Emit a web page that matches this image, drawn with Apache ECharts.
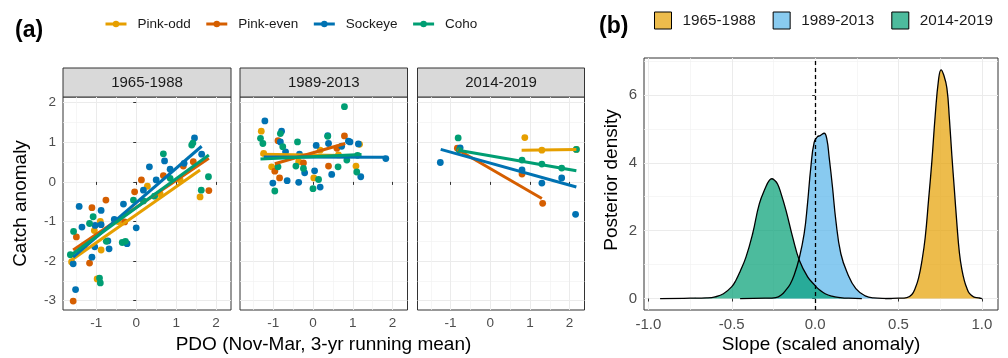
<!DOCTYPE html>
<html><head><meta charset="utf-8">
<script src="https://cdn.jsdelivr.net/npm/echarts@6/dist/echarts.min.js"></script>
<style>html,body{margin:0;padding:0;background:#fff}#c{width:1008px;height:358px}</style>
</head><body><div id="c"></div>
<script>
// ---------- data ----------
const species = ['Pink-odd', 'Pink-even', 'Sockeye', 'Coho'];
const speciesColors = ['#E69F00', '#D55E00', '#0072B2', '#009E73'];
const eras = ['1965-1988', '1989-2013', '2014-2019'];

// points [PDO, catch anomaly]
const pinkOdd_1965 = [[-0.9,-1.0],[-1.05,-1.23],[-0.88,-1.72],[-0.98,-2.45],[-1.62,-2.02],[0.28,-0.11],[1.6,-0.38],[0.6,-0.3],[1.1,0.05],[-0.45,-1.0],[-1.3,-1.6]];
const pinkEven_1965 = [[0.13,0.05],[-0.04,-0.25],[-0.76,-0.46],[-1.11,-0.65],[-1.5,-1.39],[-1.17,-2.05],[-1.58,-3.01],[-0.29,-1.01],[0.68,0.16],[1.43,0.51],[1.18,0.40],[1.82,-0.22]];
const sockeye_1965 = [[1.46,1.11],[0.71,0.53],[0.33,0.38],[0.85,0.32],[1.2,0.47],[1.64,0.70],[0.18,-0.21],[-0.32,-0.56],[-1.43,-0.62],[-0.88,-0.72],[-1.36,-1.14],[-1.03,-1.10],[0.0,-1.16],[-0.71,-1.49],[-0.23,-1.56],[-0.68,-1.69],[-1.04,-1.64],[-1.11,-1.90],[-1.58,-2.07],[-1.52,-2.72],[-0.88,-1.08],[0.5,0.05],[-0.55,-0.95]];
const coho_1965 = [[0.68,0.71],[1.39,0.93],[1.42,0.98],[1.81,0.13],[1.63,-0.21],[-1.08,-0.88],[-1.17,-1.05],[-1.57,-1.25],[-1.65,-1.84],[-0.75,-1.50],[-0.35,-1.53],[-0.27,-1.50],[-0.92,-2.43],[-0.9,-2.55],[-0.07,-0.46],[0.46,-0.36],[0.85,0.09],[0.18,-0.48]];

const pinkOdd_1989 = [[-1.3,1.28],[-1.24,0.72],[-1.04,0.38],[-0.36,0.51],[0.02,0.10],[0.64,0.68],[1.08,0.40],[1.17,0.95],[0.18,0.80]];
const pinkEven_1989 = [[-0.88,1.04],[-0.96,0.27],[-0.84,0.10],[-0.24,0.48],[0.39,0.40],[0.79,1.16],[0.6,0.85]];
const sockeye_1989 = [[-1.21,1.54],[-0.79,1.28],[-0.82,1.01],[-0.69,0.76],[0.08,0.92],[0.37,1.17],[0.39,0.97],[0.72,0.90],[0.89,1.03],[-0.34,0.70],[-0.21,0.23],[-0.65,0.03],[-0.36,-0.01],[-1.01,-0.03],[0.04,0.28],[0.18,-0.13],[0.47,0.19],[1.14,0.96],[1.83,0.59],[1.2,0.13],[0.93,1.01]];
const coho_1989 = [[0.79,1.90],[-1.32,1.10],[-1.26,0.97],[-0.82,1.22],[-0.76,0.89],[-0.39,1.01],[-0.88,0.38],[-0.43,0.40],[-0.96,-0.23],[0.0,-0.17],[0.14,0.06],[0.37,1.15],[0.63,0.38],[0.85,0.55],[-0.24,0.34],[1.1,0.25],[1.12,0.67]];

const pinkOdd_2014 = [[0.87,1.12],[2.17,0.82],[1.3,0.8]];
const pinkEven_2014 = [[-0.83,0.85],[1.32,-0.54],[0.8,0.2]];
const sockeye_2014 = [[-1.26,0.49],[-0.76,0.86],[1.3,-0.03],[2.15,-0.82],[0.8,0.3],[1.8,0.1]];
const coho_2014 = [[-0.81,1.11],[2.17,0.82],[0.8,0.55],[1.3,0.45],[1.8,0.35],[-0.78,0.8]];

// fitted lines [[x0,y0],[x1,y1]]
const fitPinkOdd_1965 = [[-1.62,-1.97],[1.6,0.30]];
const fitPinkEven_1965 = [[-1.58,-1.72],[1.82,0.60]];
const fitSockeye_1965 = [[-1.58,-1.90],[1.64,0.90]];
const fitCoho_1965 = [[-1.65,-1.86],[1.82,0.68]];
const fitPinkOdd_1989 = [[-1.32,0.70],[1.2,0.66]];
const fitPinkEven_1989 = [[-0.96,0.46],[0.81,0.97]];
const fitSockeye_1989 = [[-1.24,0.63],[1.83,0.62]];
const fitCoho_1989 = [[-1.32,0.58],[1.22,0.69]];
const fitPinkOdd_2014 = [[0.79,0.80],[2.17,0.82]];
const fitPinkEven_2014 = [[-0.83,0.82],[1.3,-0.42]];
const fitSockeye_2014 = [[-1.25,0.82],[2.17,-0.13]];
const fitCoho_2014 = [[-0.81,0.80],[2.17,0.28]];

// posterior densities of slope
const slope_1965 = [0.42,0.50,0.55,0.58,0.60,0.62,0.64,0.66,0.68,0.70,0.72,0.74,0.755,0.77,0.79,0.805,0.82,0.835,0.85,0.865,0.88,0.895,0.91,0.925,0.95,0.98,1.00];
const dens_1965  = [0,0.01,0.03,0.12,0.3,0.6,1.1,1.8,2.9,4.05,5.4,6.45,6.74,6.6,6.2,5.3,4.2,3.2,2.2,1.35,0.85,0.52,0.3,0.15,0.05,0.02,0];
const slope_1989 = [-0.45,-0.3,-0.236,-0.2,-0.176,-0.15,-0.126,-0.096,-0.066,-0.046,-0.026,-0.006,0.014,0.03,0.054,0.07,0.084,0.104,0.124,0.154,0.194,0.244,0.3,0.35,0.46];
const dens_1989  = [0,0.01,0.03,0.12,0.25,0.42,0.69,1.18,1.91,2.79,3.87,4.6,4.77,4.8,4.87,4.7,4.16,3.28,2.30,1.32,0.74,0.29,0.08,0.02,0];
const slope_2014 = [-0.93,-0.75,-0.65,-0.6,-0.55,-0.5,-0.475,-0.45,-0.415,-0.375,-0.335,-0.295,-0.275,-0.26,-0.245,-0.225,-0.205,-0.175,-0.135,-0.095,-0.045,0.0,0.025,0.06,0.1,0.15,0.2,0.28];
const dens_2014  = [0,0.01,0.02,0.05,0.14,0.35,0.54,0.8,1.22,1.91,2.79,3.3,3.48,3.53,3.49,3.37,3.1,2.6,1.81,1.13,0.64,0.38,0.26,0.14,0.07,0.03,0.01,0];

const ticksCatch = [-3,-2,-1,0,1,2];
const ticksPDO = [-1,0,1,2];
const ticksSlope = [-1.0,-0.5,0.0,0.5,1.0];
const ticksDens = [0,2,4,6];

// ---------- assembly ----------
const points = [
  [pinkOdd_1965, pinkEven_1965, sockeye_1965, coho_1965],
  [pinkOdd_1989, pinkEven_1989, sockeye_1989, coho_1989],
  [pinkOdd_2014, pinkEven_2014, sockeye_2014, coho_2014]
];
const fits = [
  [fitPinkOdd_1965, fitPinkEven_1965, fitSockeye_1965, fitCoho_1965],
  [fitPinkOdd_1989, fitPinkEven_1989, fitSockeye_1989, fitCoho_1989],
  [fitPinkOdd_2014, fitPinkEven_2014, fitSockeye_2014, fitCoho_2014]
];
const dens = [[slope_1965, dens_1965],[slope_1989, dens_1989],[slope_2014, dens_2014]];
const areaFills = ['rgba(230,159,0,0.7)','rgba(86,180,233,0.7)','rgba(0,158,115,0.7)'];
const keyFills = ['#EDBC4C','#89CBF0','#4DBB9D'];

const FONT = '"Liberation Sans", Arial, sans-serif';
const facets = [{l:63,w:168},{l:240,w:167.5},{l:417.5,w:167}];
const FT = 97, FH = 213;
const B = {l:644, t:58, w:354, h:252};

const grids = facets.map(f => ({left:f.l, top:FT, width:f.w, height:FH, show:true, borderColor:'#333', borderWidth:1, backgroundColor:'#fff', containLabel:false, outerBoundsMode:'none'}));
grids.push({left:B.l, top:B.t, width:B.w, height:B.h, show:true, borderColor:'#333', borderWidth:1, backgroundColor:'#fff', containLabel:false, outerBoundsMode:'none'});

const splitL = {show:true, lineStyle:{color:'#EBEBEB', width:1}};
const minorL = {show:true, lineStyle:{color:'#F2F2F2', width:0.7}};

const xAxes = facets.map((f,i) => ({
  type:'value', gridIndex:i, min:-1.835, max:2.375, splitNumber:5,
  axisLine:{show:false}, axisTick:{show:true, length:3, lineStyle:{color:'#333'}, customValues:ticksPDO},
  axisLabel:{show:true, color:'#4D4D4D', fontSize:13.5, fontFamily:FONT, margin:6, customValues:ticksPDO, formatter:v=>String(v)},
  splitLine:splitL, minorTick:{show:false, splitNumber:2}, minorSplitLine:minorL
}));
xAxes.push({
  type:'value', gridIndex:3, min:-1.0265, max:1.0965, splitNumber:5,
  axisLine:{show:false}, axisTick:{show:true, length:3, lineStyle:{color:'#333'}, customValues:ticksSlope},
  axisLabel:{show:true, color:'#4D4D4D', fontSize:15, fontFamily:FONT, margin:7, customValues:ticksSlope, formatter:v=>v.toFixed(1)},
  splitLine:splitL, minorTick:{show:false, splitNumber:2}, minorSplitLine:minorL
});
const yAxes = facets.map((f,i) => ({
  type:'value', gridIndex:i, min:-3.235, max:2.144, splitNumber:5,
  axisLine:{show:false}, axisTick:{show:i===0, length:3, lineStyle:{color:'#333'}, customValues:ticksCatch},
  axisLabel:{show:i===0, color:'#4D4D4D', fontSize:13.5, fontFamily:FONT, margin:7, customValues:ticksCatch, formatter:v=>String(v)},
  splitLine:splitL, minorTick:{show:false, splitNumber:2}, minorSplitLine:minorL
}));
yAxes.push({
  type:'value', gridIndex:3, min:-0.3375, max:7.0875, splitNumber:4,
  axisLine:{show:false}, axisTick:{show:true, length:3, lineStyle:{color:'#333'}, customValues:ticksDens},
  axisLabel:{show:true, color:'#4D4D4D', fontSize:15, fontFamily:FONT, margin:7, customValues:ticksDens, formatter:v=>String(v)},
  splitLine:splitL, minorTick:{show:false, splitNumber:2}, minorSplitLine:minorL
});

const series = [];
// regression lines first (legend icon source), drawn above points via z
eras.forEach((era, e) => {
  species.forEach((sp, s) => {
    series.push({
      type:'line', name:sp, xAxisIndex:e, yAxisIndex:e, data:fits[e][s],
      showSymbol:false, symbol:'circle', symbolSize:6, z:4, silent:true,
      lineStyle:{width:3, color:speciesColors[s]}, itemStyle:{color:speciesColors[s]},
      animation:false
    });
  });
});
eras.forEach((era, e) => {
  species.forEach((sp, s) => {
    series.push({
      type:'scatter', name:sp, xAxisIndex:e, yAxisIndex:e, data:points[e][s],
      symbol:'circle', symbolSize:6.8, z:2, silent:true,
      itemStyle:{color:speciesColors[s], opacity:1}, animation:false
    });
  });
});
eras.forEach((era, i) => {
  const s = {
    type:'line', name:era, xAxisIndex:3, yAxisIndex:3,
    data:dens[i][0].map((x, j) => [x, dens[i][1][j]]),
    smooth:0.45, showSymbol:false, symbol:'none', silent:true,
    lineStyle:{color:'#000', width:1.3}, itemStyle:{color:keyFills[i]},
    areaStyle:{color:areaFills[i], opacity:1}, z:2, animation:false
  };
  if (i === 2) {
    s.markLine = {silent:true, symbol:['none','none'], label:{show:false}, animation:false,
      lineStyle:{type:[4,3], color:'#000', width:1.3}, data:[{xAxis:0}]};
  }
  series.push(s);
});

const graphics = [];
facets.forEach((f, i) => {
  graphics.push({type:'rect', shape:{x:f.l, y:68, width:f.w, height:29}, style:{fill:'#D9D9D9', stroke:'#333', lineWidth:1}, silent:true});
  graphics.push({type:'text', x:f.l + f.w/2, y:82.5, style:{text:eras[i], font:'15px ' + FONT, fill:'#1A1A1A', align:'center', verticalAlign:'middle', textAlign:'center', textVerticalAlign:'middle'}, silent:true});
});
graphics.push({type:'text', x:15, y:31, style:{text:'(a)', font:'bold 23px ' + FONT, fill:'#000', align:'left', verticalAlign:'middle', textAlign:'left', textVerticalAlign:'middle'}});
graphics.push({type:'text', x:599, y:27, style:{text:'(b)', font:'bold 23px ' + FONT, fill:'#000', align:'left', verticalAlign:'middle', textAlign:'left', textVerticalAlign:'middle'}});
graphics.push({type:'text', x:323.5, y:345, style:{text:'PDO (Nov-Mar, 3-yr running mean)', font:'19px ' + FONT, fill:'#000', align:'center', verticalAlign:'middle', textAlign:'center', textVerticalAlign:'middle'}});
graphics.push({type:'text', x:21, y:203.5, rotation:Math.PI/2, style:{text:'Catch anomaly', font:'19px ' + FONT, fill:'#000', align:'center', verticalAlign:'middle', textAlign:'center', textVerticalAlign:'middle'}});
graphics.push({type:'text', x:821, y:345, style:{text:'Slope (scaled anomaly)', font:'19px ' + FONT, fill:'#000', align:'center', verticalAlign:'middle', textAlign:'center', textVerticalAlign:'middle'}});
graphics.push({type:'text', x:612, y:180, rotation:Math.PI/2, style:{text:'Posterior density', font:'19px ' + FONT, fill:'#000', align:'center', verticalAlign:'middle', textAlign:'center', textVerticalAlign:'middle'}});

const option = {
  backgroundColor:'#fff',
  animation:false,
  textStyle:{fontFamily:FONT},
  grid:grids, xAxis:xAxes, yAxis:yAxes, series:series, graphic:graphics,
  legend:[
    {data:species, left:104, top:17, padding:0, itemWidth:21, itemHeight:8, itemGap:14,
     lineStyle:{width:3}, itemStyle:{borderWidth:0},
     textStyle:{fontSize:13.5, color:'#1A1A1A', fontFamily:FONT, padding:[0,0,0,6]}, selectedMode:false},
    {data:eras.map((n,i)=>({name:n, icon:'rect', itemStyle:{color:keyFills[i], borderColor:'#000', borderWidth:1}})),
     left:654, top:11.5, padding:0, itemWidth:17, itemHeight:17, itemGap:17,
     textStyle:{fontSize:15.3, color:'#1A1A1A', fontFamily:FONT, padding:[0,0,0,6]}, selectedMode:false}
  ]
};
const chart = echarts.init(document.getElementById('c'), null, {renderer:'canvas'});
chart.setOption(option);
</script>
</body></html>
